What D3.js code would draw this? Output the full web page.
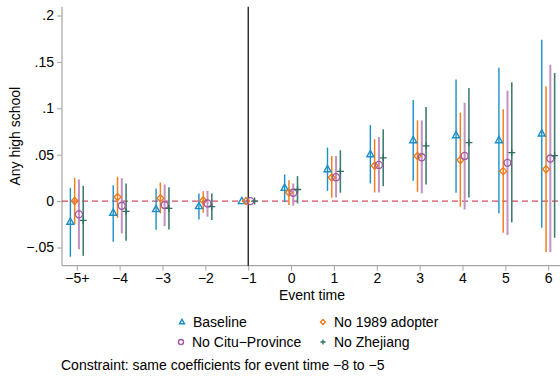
<!DOCTYPE html>
<html>
<head>
<meta charset="utf-8">
<script src="https://cdn.jsdelivr.net/npm/d3@7"></script>
<style>
  body { margin: 0; background: #fff; }
  svg { display: block; font-family: "Liberation Sans", Arial, Helvetica, sans-serif; }
</style>
</head>
<body>
<script>
'use strict';

// event time positions and tick labels
const eventTimes = [-5, -4, -3, -2, -1, 0, 1, 2, 3, 4, 5, 6];
const eventLabels = ["\u22125+", "\u22124", "\u22123", "\u22122", "\u22121", "0", "1", "2", "3", "4", "5", "6"];
const yTicks = [-0.05, 0, 0.05, 0.1, 0.15, 0.2];
const yTickLabels = ["\u2212.05", "0", ".05", ".1", ".15", ".2"];

// series names
const seriesNames = ["Baseline", "No 1989 adopter", "No Citu\u2212Province", "No Zhejiang"];

// point estimates and confidence bounds
const baseCoef = [-0.0223, -0.0125, -0.0086, -0.0054, 0, 0.0143, 0.0344, 0.0505, 0.0656, 0.071, 0.0656, 0.0728];
const baseLo   = [-0.060, -0.0437, -0.031, -0.0197, 0, -0.001, 0.011, 0.019, 0.0218, 0.009, -0.0133, -0.0287];
const baseHi   = [0.0143, 0.0172, 0.0136, 0.0082, 0, 0.0287, 0.0577, 0.082, 0.109, 0.131, 0.1437, 0.174];

const no89Coef = [0.0, 0.0043, 0.0032, 0.0007, 0, 0.0093, 0.0255, 0.038, 0.0487, 0.0444, 0.0323, 0.0344];
const no89Lo   = [-0.0247, -0.018, -0.0133, -0.0125, 0, -0.0043, 0.0036, 0.0093, 0.010, -0.006, -0.034, -0.055];
const no89Hi   = [0.025, 0.0262, 0.020, 0.0107, 0, 0.0226, 0.0487, 0.0667, 0.087, 0.0953, 0.099, 0.1237];

const noCituCoef = [-0.0143, -0.005, -0.0043, -0.0025, 0, 0.009, 0.0258, 0.039, 0.0473, 0.0487, 0.0412, 0.0459];
const noCituLo   = [-0.052, -0.0348, -0.027, -0.0168, 0, -0.005, 0.004, 0.0093, 0.0083, -0.009, -0.0366, -0.055];
const noCituHi   = [0.0233, 0.0247, 0.018, 0.011, 0, 0.019, 0.0487, 0.069, 0.087, 0.106, 0.119, 0.147];

const noZjCoef = [-0.0208, -0.011, -0.0079, -0.006, 0, 0.0125, 0.032, 0.0466, 0.0595, 0.063, 0.0523, 0.049];
const noZjLo   = [-0.059, -0.0427, -0.0305, -0.0204, 0, -0.0025, 0.009, 0.016, 0.018, 0.004, -0.023, -0.0395];
const noZjHi   = [0.0165, 0.019, 0.015, 0.0083, 0, 0.0269, 0.0548, 0.0774, 0.1014, 0.122, 0.128, 0.138];

(function() {

  const width = 560, height = 381;
  const left = 62, right = 560, top = 6.7, bottom = 265.7;

  let svg = d3.select('body')
    .append('svg')
    .attr('width', width)
    .attr('height', height);

  // scales: -5 sits at x=76.8, 6 at x=548.2
  let xScale = d3.scaleLinear()
    .domain([-5, 6])
    .range([76.8, 548.2]);
  let yScale = d3.scaleLinear()
    .domain([-0.05, 0.2])
    .range([247.5, 15.5]);

  // one entry per series: data, offset from the event tick, colours, marker
  let series = [
    { name: seriesNames[0], coef: baseCoef, lo: baseLo, hi: baseHi, off: -0.15,
      line: "#1b8fc9", mark: "#1b8fc9", lw: 1.4, shape: "triangle" },
    { name: seriesNames[1], coef: no89Coef, lo: no89Lo, hi: no89Hi, off: -0.05,
      line: "#f0801f", mark: "#ee7a17", lw: 1.5, shape: "diamond" },
    { name: seriesNames[2], coef: noCituCoef, lo: noCituLo, hi: noCituHi, off: 0.05,
      line: "#c192c2", mark: "#a4559f", lw: 2, shape: "circle" },
    { name: seriesNames[3], coef: noZjCoef, lo: noZjLo, hi: noZjHi, off: 0.15,
      line: "#3f7f6f", mark: "#2d6e5f", lw: 1.6, shape: "plus" }
  ];

  // x axis
  let xAxis = d3.axisBottom(xScale)
    .tickValues(eventTimes)
    .tickSize(5)
    .tickPadding(2)
    .tickFormat((d, i) => eventLabels[i]);
  let gx = svg.append('g')
    .attr('transform', 'translate(0,' + bottom + ')')
    .call(xAxis);
  gx.select('.domain').remove();
  gx.append('line')
    .attr('x1', left).attr('x2', right)
    .attr('stroke', '#a6a6a6').attr('stroke-width', 1.2);
  gx.selectAll('.tick line').attr('stroke', '#a6a6a6');
  gx.selectAll('.tick text')
    .attr('fill', '#000')
    .style('font-size', '14px');

  // y axis
  let yAxis = d3.axisLeft(yScale)
    .tickValues(yTicks)
    .tickSize(5)
    .tickPadding(3)
    .tickFormat((d, i) => yTickLabels[i]);
  let gy = svg.append('g')
    .attr('transform', 'translate(' + left + ',0)')
    .call(yAxis);
  gy.select('.domain').remove();
  gy.append('line')
    .attr('y1', top).attr('y2', bottom)
    .attr('stroke', '#a6a6a6').attr('stroke-width', 1.2);
  gy.selectAll('.tick line').attr('stroke', '#a6a6a6');
  gy.selectAll('.tick text')
    .attr('fill', '#000')
    .style('font-size', '14px');

  // reference lines
  svg.append('line')
    .attr('x1', left).attr('x2', right)
    .attr('y1', yScale(0)).attr('y2', yScale(0))
    .attr('stroke', '#c41e3a')
    .attr('stroke-width', 1)
    .attr('stroke-dasharray', '6,4');

  svg.append('line')
    .attr('x1', xScale(-1)).attr('x2', xScale(-1))
    .attr('y1', top).attr('y2', bottom)
    .attr('stroke', '#000')
    .attr('stroke-width', 1.2);

  // marker drawing
  function drawMarker(g, shape, color, s) {
    if (shape === "triangle") {
      let h = s * 0.9;
      g.append('path')
        .attr('d', 'M0,' + (-h * 0.6) + 'L' + (s / 2) + ',' + (h * 0.4) + 'L' + (-s / 2) + ',' + (h * 0.4) + 'Z')
        .attr('fill', 'none').attr('stroke', color).attr('stroke-width', 1.4);
    } else if (shape === "diamond") {
      let r = s / 2;
      g.append('path')
        .attr('d', 'M0,' + (-r) + 'L' + r + ',0L0,' + r + 'L' + (-r) + ',0Z')
        .attr('fill', 'none').attr('stroke', color).attr('stroke-width', 1.4);
    } else if (shape === "circle") {
      g.append('circle')
        .attr('r', s / 2)
        .attr('fill', 'none').attr('stroke', color).attr('stroke-width', 1.4);
    } else {
      let r = s / 2;
      g.append('path')
        .attr('d', 'M' + (-r) + ',0H' + r + 'M0,' + (-r) + 'V' + r)
        .attr('fill', 'none').attr('stroke', color).attr('stroke-width', 1.3);
    }
  }

  // confidence intervals then markers
  series.forEach((s) => {
    let rows = eventTimes.map((t, i) => ({ t: t, c: s.coef[i], lo: s.lo[i], hi: s.hi[i] }));
    svg.append('g').selectAll('line')
      .data(rows.filter((d) => d.hi > d.lo))
      .enter()
      .append('line')
        .attr('x1', (d) => xScale(d.t + s.off))
        .attr('x2', (d) => xScale(d.t + s.off))
        .attr('y1', (d) => yScale(d.lo))
        .attr('y2', (d) => yScale(d.hi))
        .attr('stroke', s.line)
        .attr('stroke-width', s.lw);
  });

  series.forEach((s) => {
    eventTimes.forEach((t, i) => {
      let g = svg.append('g')
        .attr('transform', 'translate(' + xScale(t + s.off) + ',' + yScale(s.coef[i]) + ')');
      drawMarker(g, s.shape, s.mark, 7);
    });
  });

  // axis titles
  svg.append('text')
    .attr('x', 312)
    .attr('y', 299.5)
    .attr('text-anchor', 'middle')
    .style('font-size', '14px')
    .text('Event time');

  svg.append('text')
    .attr('transform', 'translate(20,' + ((top + bottom) / 2) + ')rotate(-90)')
    .attr('text-anchor', 'middle')
    .style('font-size', '14px')
    .text('Any high school');

  // legend, two columns
  let legendPos = [[182, 322], [323, 322], [181, 342], [323, 342]];
  series.forEach((s, i) => {
    let g = svg.append('g')
      .attr('transform', 'translate(' + legendPos[i][0] + ',' + legendPos[i][1] + ')');
    drawMarker(g, s.shape, s.mark, 5);
    g.append('text')
      .attr('x', 11)
      .attr('y', 5)
      .style('font-size', '14px')
      .text(s.name);
  });

  // note
  svg.append('text')
    .attr('x', 61)
    .attr('y', 370)
    .style('font-size', '14px')
    .text('Constraint: same coefficients for event time \u22128 to \u22125');

})();
</script>
</body>
</html>
